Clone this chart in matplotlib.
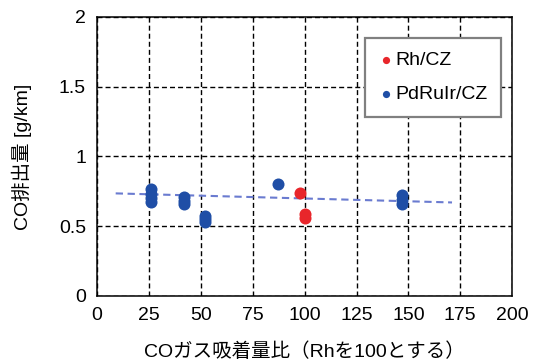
import numpy as np
import matplotlib.pyplot as plt

# values
rh_x = [98, 100, 100]
rh_y = [0.74, 0.59, 0.56]
pd_x = [26, 26, 26, 26, 42, 42, 42, 52, 52, 52, 87, 147, 147, 147]
pd_y = [0.77, 0.73, 0.70, 0.67, 0.71, 0.68, 0.66, 0.57, 0.55, 0.53, 0.80, 0.72, 0.69, 0.66]
trend_x = [9, 171]
trend_y = [0.735, 0.67]

x_ticks = [0, 25, 50, 75, 100, 125, 150, 175, 200]
y_ticks = [0, 0.5, 1, 1.5, 2]
y_tick_labels = ['0', '0.5', '1', '1.5', '2']

fonts = ['Liberation Sans', 'Noto Sans CJK JP', 'DejaVu Sans']
plt.rcParams['font.family'] = fonts

fig = plt.figure(figsize=(5.33, 3.6), dpi=100)
ax = fig.add_axes([0.182, 0.178, 0.779, 0.775])

ax.plot(trend_x, trend_y, color='#6a7bd0', lw=1.5, dashes=(3.5, 2.2), zorder=2)
ax.scatter(rh_x, rh_y, s=75, color='#e8262b', label='Rh/CZ', zorder=3, linewidths=0)
ax.scatter(pd_x, pd_y, s=75, color='#1f4ea6', label='PdRuIr/CZ', zorder=3, linewidths=0)

ax.set_xlim(0, 200)
ax.set_ylim(0, 2)
ax.set_xticks(x_ticks)
ax.set_yticks(y_ticks)
ax.set_yticklabels(y_tick_labels)
ax.tick_params(length=0, labelsize=14, pad=8)
ax.grid(True, color='black', lw=1.0, dashes=(3.6, 2.2))
ax.set_axisbelow(True)
for s in ax.spines.values():
    s.set_linewidth(1.1)

ax.set_xlabel('COガス吸着量比（Rhを100とする）', fontsize=14, labelpad=13)
ax.set_ylabel('CO排出量 [g/km]', fontsize=14, labelpad=19)

leg = ax.legend(loc='upper right', bbox_to_anchor=(0.973, 0.925), fontsize=14,
                markerscale=0.6, handletextpad=0.05, handlelength=0.8,
                borderpad=0.7, labelspacing=0.85, fancybox=False, framealpha=1,
                borderaxespad=0)
leg.get_frame().set_edgecolor('#808080')
leg.get_frame().set_linewidth(1.6)

fig.savefig('out.png', dpi=100)
